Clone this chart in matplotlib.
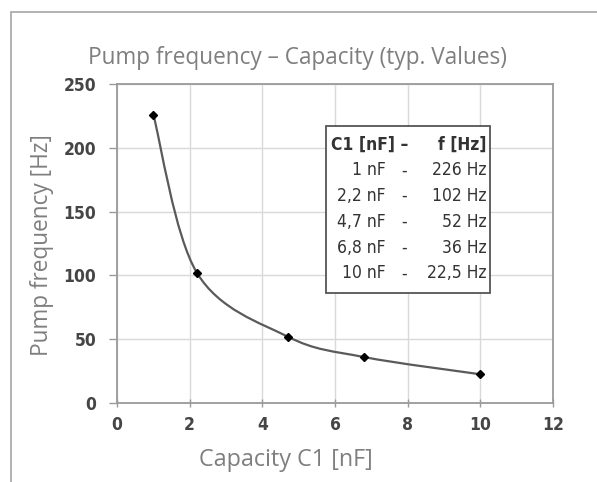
import matplotlib
matplotlib.use("Agg")
import matplotlib.pyplot as plt
from matplotlib.path import Path
from matplotlib.patches import PathPatch, Rectangle
import numpy as np

# data (typ. values)
cap_nf = [1.0, 2.2, 4.7, 6.8, 10.0]
freq_hz = [226, 102, 52, 36, 22.5]
cap_labels = ["1 nF", "2,2 nF", "4,7 nF", "6,8 nF", "10 nF"]
freq_labels = ["226 Hz", "102 Hz", "52 Hz", "36 Hz", "22,5 Hz"]
x_ticks = [0, 2, 4, 6, 8, 10, 12]
y_ticks = [0, 50, 100, 150, 200, 250]

label_grey = "#7f7f7f"
tick_col = "#454545"

fig = plt.figure(figsize=(5.97, 4.82), dpi=100)
ax = fig.add_axes([117 / 597, 1 - 403 / 482, 436 / 597, 319 / 482])

# outer frame of the original picture
fig.patches.append(Rectangle((11 / 597, -0.05), 1.0, 1 - 12 / 482 + 0.05,
                             transform=fig.transFigure, fill=False,
                             edgecolor="#a6a6a6", lw=1.2))

# smoothed line (like a spreadsheet "smooth line") through the points
pts = np.column_stack([cap_nf, freq_hz])
verts = [tuple(pts[0])]
codes = [Path.MOVETO]
n = len(pts)
for i in range(n - 1):
    p_prev = pts[i - 1] if i > 0 else pts[i]
    p_next2 = pts[i + 2] if i + 2 < n else pts[i + 1]
    c1 = pts[i] + (pts[i + 1] - p_prev) / 6
    c2 = pts[i + 1] - (p_next2 - pts[i]) / 6
    verts += [tuple(c1), tuple(c2), tuple(pts[i + 1])]
    codes += [Path.CURVE4] * 3
ax.add_patch(PathPatch(Path(verts, codes), fill=False, edgecolor="#5a5a5a",
                       lw=1.6, zorder=3))
ax.plot(cap_nf, freq_hz, linestyle="none", marker="D", markersize=4,
        color="black", zorder=4)

ax.set_xlim(0, 12)
ax.set_ylim(0, 250)
ax.set_xticks(x_ticks)
ax.set_yticks(y_ticks)
ax.grid(True, color="#d9d9d9", lw=1.0)
ax.set_axisbelow(True)
for s in ax.spines.values():
    s.set_color("#9a9a9a")
    s.set_linewidth(1.3)
ax.tick_params(axis="both", colors="#9a9a9a", labelcolor=tick_col,
               labelsize=12.5, length=6, width=1.0)
ax.tick_params(axis="x", direction="inout", pad=6)
ax.tick_params(axis="y", direction="out", pad=9)
for lab in ax.get_xticklabels() + ax.get_yticklabels():
    lab.set_fontfamily("DejaVu Sans")
    lab.set_fontweight("bold")
    lab.set_fontstretch("condensed")

fig.text(297 / 597, 1 - 58 / 482, "Pump frequency \u2013 Capacity (typ. Values)",
         ha="center", va="center", fontsize=16.3, color=label_grey,
         family="Open Sans")
fig.text(42 / 597, 1 - 245 / 482, "Pump frequency [Hz]", rotation=90,
         ha="center", va="center", fontsize=16.3, color=label_grey,
         family="Open Sans")
fig.text(286 / 597, 1 - 460 / 482, "Capacity C1 [nF]",
         ha="center", va="center", fontsize=16.8, color=label_grey,
         family="Open Sans")

# value table box
ax.add_patch(Rectangle((5.75, 86), 4.52, 131, facecolor="white",
                       edgecolor="#555555", lw=1.3, zorder=5))
row_y = [217 - 14.5 - 20.2 * k for k in range(6)]
tkw = dict(fontsize=12.5, color="#333333", zorder=6, family="DejaVu Sans",
           fontstretch="condensed", va="center")
ax.text(5.9, row_y[0], "C1 [nF] \u2013", ha="left", fontweight="bold", **tkw)
ax.text(10.17, row_y[0], "f [Hz]", ha="right", fontweight="bold", **tkw)
for k in range(5):
    ax.text(7.39, row_y[k + 1], cap_labels[k], ha="right", **tkw)
    ax.text(7.9, row_y[k + 1], "-", ha="center", **tkw)
    ax.text(10.17, row_y[k + 1], freq_labels[k], ha="right", **tkw)

fig.savefig("out.png", dpi=100)
